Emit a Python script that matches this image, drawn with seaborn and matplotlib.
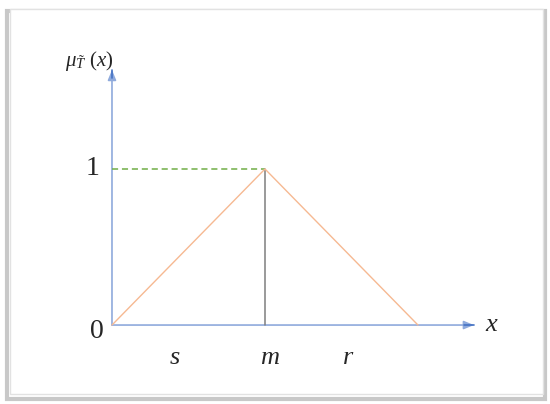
import seaborn as sns
import pandas as pd
import matplotlib.pyplot as plt
from matplotlib.patches import Rectangle

# triangular fuzzy number (s, m, r) and its membership values
points = [0.0, 1.0, 2.0]
membership = [0.0, 1.0, 0.0]
point_labels = ['s', 'm', 'r']
label_x = [0.41, 1.03, 1.54]
y_ticks = [0, 1]

sns.set_style("white")
plt.rcParams['font.family'] = ['Liberation Serif', 'DejaVu Serif']
plt.rcParams['mathtext.fontset'] = 'custom'
plt.rcParams['mathtext.rm'] = 'Liberation Serif'
plt.rcParams['mathtext.it'] = 'Liberation Serif:italic'

fig = plt.figure(figsize=(5.5, 4.04), dpi=100)
ax = fig.add_axes([0, 0, 1, 1])
ax.set_xlim(-0.732, 2.863)
ax.set_ylim(-0.506, 2.083)
ax.axis('off')

# frame with a soft shadow
ax.add_patch(Rectangle((0.012, 0.012), 0.978, 0.96, transform=ax.transAxes,
                       fill=False, ec='#c8c8c8', lw=3, zorder=0))
ax.add_patch(Rectangle((0.018, 0.025), 0.969, 0.953, transform=ax.transAxes,
                       fill=True, fc='white', ec='#e2e2e2', lw=1, zorder=0))

df = pd.DataFrame({'x': points, 'mu': membership})
sns.lineplot(data=df, x='x', y='mu', sort=False, color='#f6b992', lw=1.0, ax=ax, zorder=3)

# guides to the peak
ax.plot([points[0], points[1]], [membership[1], membership[1]], ls='--', color='#70ad47',
        lw=1.1, dashes=(4, 2.5), zorder=2)
ax.plot([points[1], points[1]], [0, membership[1]], color='#7f7f7f', lw=1.1, zorder=2)

# axes with arrows
arrow = dict(arrowstyle='-|>,head_length=0.6,head_width=0.25', color='#8faadc', lw=1.2,
             shrinkA=0, shrinkB=0)
ax.annotate('', xy=(2.366, 0), xytext=(0, 0), arrowprops=arrow, zorder=1)
ax.annotate('', xy=(0, 1.635), xytext=(0, 0), arrowprops=arrow, zorder=1)
ax.plot([2.30, 2.366], [0, 0], color='#4472c4', lw=1.2, zorder=1)
ax.plot([0, 0], [1.58, 1.635], color='#4472c4', lw=1.2, zorder=1)

ax.text(-0.1, -0.04, str(y_ticks[0]), fontsize=20, ha='center', va='center')
ax.text(-0.125, 1.0, str(y_ticks[1]), fontsize=20, ha='center', va='center')
ax.text(2.48, 0.0, 'x', fontsize=19, style='italic', ha='center', va='center')
ax.text(-0.15, 1.69, r'$\mu_{\tilde{T}}\ (x)$', fontsize=15, ha='center', va='center')
for lx, lab in zip(label_x, point_labels):
    ax.text(lx, -0.21, lab, fontsize=19, style='italic', ha='center', va='center')

fig.savefig('out.png', dpi=100)
